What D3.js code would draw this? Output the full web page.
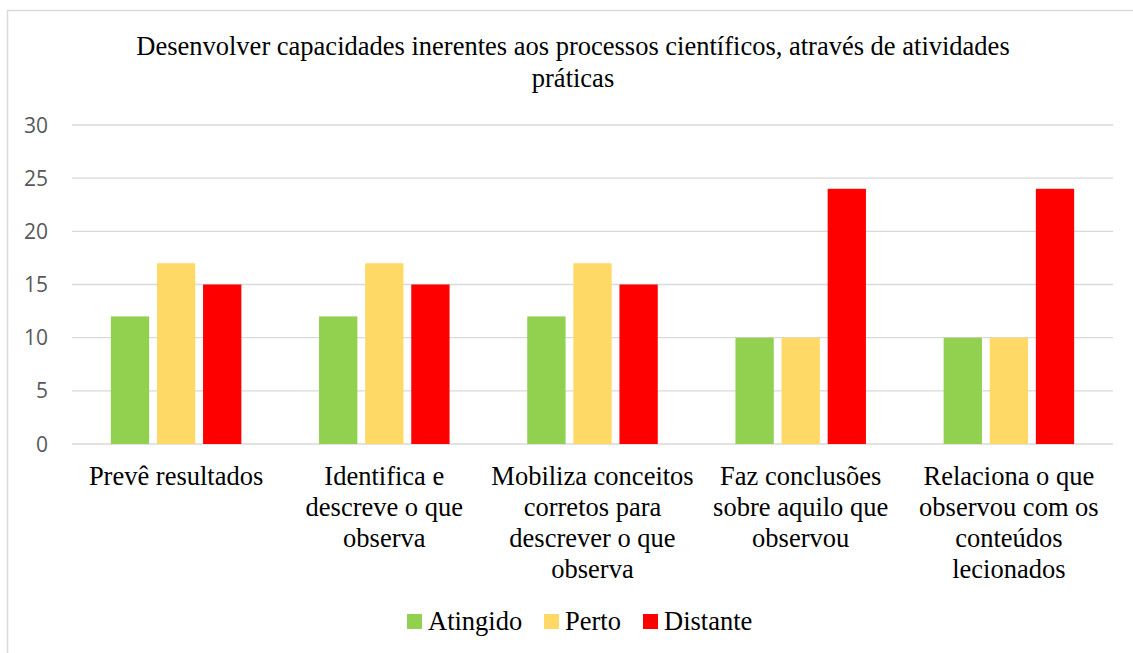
<!DOCTYPE html>
<html>
<head>
<meta charset="utf-8">
<script src="https://cdn.jsdelivr.net/npm/d3@7"></script>
<style>
  body { margin: 0; background: #fff; }
  svg { display: block; }
</style>
</head>
<body>
<svg></svg>
<script>
// data
var categories = [
    ["Prevê resultados"],
    ["Identifica e", "descreve o que", "observa"],
    ["Mobiliza conceitos", "corretos para", "descrever o que", "observa"],
    ["Faz conclusões", "sobre aquilo que", "observou"],
    ["Relaciona o que", "observou com os", "conteúdos", "lecionados"]
];
var seriesNames = ["Atingido", "Perto", "Distante"];
var atingido = [12, 12, 12, 10, 10];
var perto = [17, 17, 17, 10, 10];
var distante = [15, 15, 15, 24, 24];
var yTicks = [0, 5, 10, 15, 20, 25, 30];
var titleLines = ["Desenvolver capacidades inerentes aos processos científicos, através de atividades", "práticas"];

var colors = ["#92D050", "#FFD966", "#FF0000"];
var values = [atingido, perto, distante];

var width = 1133, height = 653;
var serif = "'Liberation Serif', 'Times New Roman', serif";
var svg = d3.select("svg").attr("width", width).attr("height", height);

// chart frame (runs off the right and bottom edge)
svg.append("rect")
    .attr("x", 7.5).attr("y", 10.5)
    .attr("width", 1140).attr("height", 660)
    .attr("fill", "none")
    .attr("stroke", "#d9d9d9")
    .attr("stroke-width", 1.5);

var plotLeft = 72, plotRight = 1113, plotTop = 125, plotBottom = 444;

var y = d3.scaleLinear().domain([0, 30]).range([plotBottom, plotTop]);
var x0 = d3.scaleBand().domain(d3.range(categories.length)).range([plotLeft, plotRight]);
// bars: ~38px wide with ~8px spacing, group centred in the band
var barW = 38.3, barStep = 46.1;

// gridlines
svg.append("g")
    .selectAll("line")
    .data(yTicks)
    .enter().append("line")
    .attr("x1", plotLeft).attr("x2", plotRight)
    .attr("y1", function (d) { return y(d) })
    .attr("y2", function (d) { return y(d) })
    .attr("stroke", "#d9d9d9")
    .attr("stroke-width", 1.3);

// y tick labels
svg.append("g")
    .selectAll("text")
    .data(yTicks)
    .enter().append("text")
    .attr("x", 48)
    .attr("y", function (d) { return y(d) + 7.5 })
    .attr("text-anchor", "end")
    .attr("font-family", "'Open Sans', 'Liberation Sans', sans-serif")
    .attr("font-size", 21)
    .attr("fill", "#595959")
    .text(function (d) { return d });

// bars
var groups = svg.append("g")
    .selectAll("g")
    .data(values)
    .enter().append("g")
    .attr("fill", function (d, i) { return colors[i] });

groups.each(function (series, s) {
    d3.select(this).selectAll("rect")
        .data(series)
        .enter().append("rect")
        .attr("x", function (d, i) {
            var c = x0(i) + x0.bandwidth() / 2;
            return c + (s - 1) * barStep - barW / 2;
        })
        .attr("width", barW)
        .attr("y", function (d) { return y(d) })
        .attr("height", function (d) { return y(0) - y(d) });
});

// category labels
var catG = svg.append("g")
    .attr("font-family", serif)
    .attr("font-size", 26.5)
    .attr("fill", "#000")
    .attr("text-anchor", "middle");

categories.forEach(function (lines, i) {
    var cx = x0(i) + x0.bandwidth() / 2;
    var t = catG.append("text").attr("y", 485);
    lines.forEach(function (ln, k) {
        t.append("tspan")
            .attr("x", cx)
            .attr("dy", k === 0 ? 0 : 31)
            .text(ln);
    });
});

// title
var title = svg.append("text")
    .attr("font-family", serif)
    .attr("font-size", 26.5)
    .attr("fill", "#000")
    .attr("text-anchor", "middle")
    .attr("y", 55);
titleLines.forEach(function (ln, k) {
    title.append("tspan")
        .attr("x", 573)
        .attr("dy", k === 0 ? 0 : 32)
        .text(ln);
});

// legend
var legendX = [407, 544, 643];
var legend = svg.append("g")
    .selectAll("g")
    .data(seriesNames)
    .enter().append("g")
    .attr("transform", function (d, i) { return "translate(" + legendX[i] + ",614)" });
legend.append("rect")
    .attr("width", 15).attr("height", 15)
    .attr("fill", function (d, i) { return colors[i] });
legend.append("text")
    .attr("x", 21)
    .attr("y", 16)
    .attr("font-family", serif)
    .attr("font-size", 26.5)
    .attr("fill", "#000")
    .text(function (d) { return d });
</script>
</body>
</html>
